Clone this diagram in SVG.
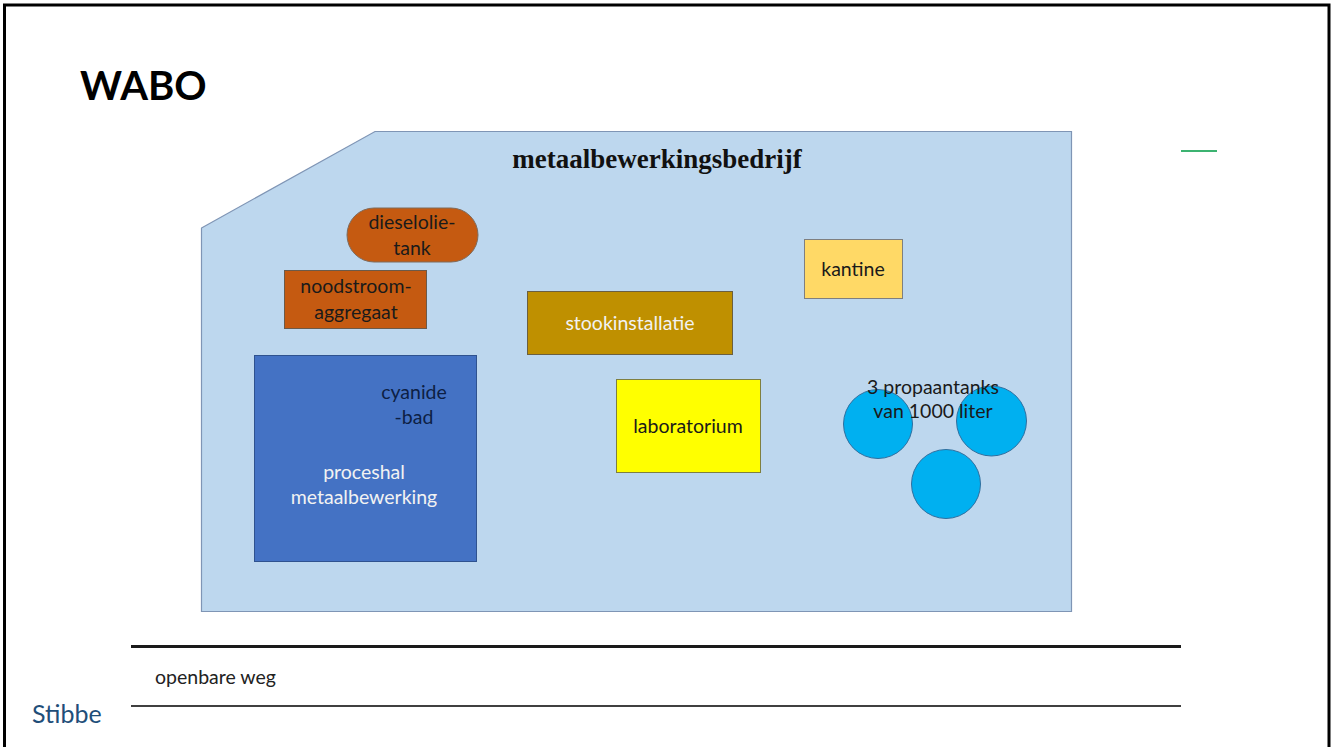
<svg xmlns="http://www.w3.org/2000/svg" width="1333" height="747" viewBox="0 0 1333 747">
<style>
.lbl{font-family:Lato,"Open Sans","Liberation Sans",sans-serif;font-size:19.5px;text-anchor:middle}
.dark{fill:#1a1a1a}
.white{fill:#f2f2f2}
</style>
<rect x="0" y="0" width="1333" height="747" fill="#ffffff"/>
<path d="M4.5 747 V5 H1329 V747" fill="none" stroke="#000" stroke-width="3"/>
<text x="80" y="100" font-family="Lato,'Open Sans','Liberation Sans',sans-serif" font-weight="bold" font-size="40" fill="#000">WABO</text>
<line x1="1181" y1="151" x2="1217" y2="151" stroke="#3cb371" stroke-width="2"/>
<g id="bedrijf">
<polygon points="201.5,228 375,131.5 1071.5,131.5 1071.5,611.5 201.5,611.5" fill="#bdd7ee" stroke="#7f95b5" stroke-width="1.2"/>
<text x="657" y="168" font-family="'Liberation Serif',serif" font-weight="bold" font-size="27" text-anchor="middle" fill="#111">metaalbewerkingsbedrijf</text>
</g>
<g id="dieselolietank">
<rect x="347" y="208" width="131" height="54" rx="27" fill="#c55a11" stroke="#7f6a5a" stroke-width="1"/>
<text class="lbl dark" x="412" y="229">dieselolie-</text>
<text class="lbl dark" x="412" y="255">tank</text>
</g>
<g id="noodstroom">
<rect x="284.5" y="270.5" width="142" height="58" fill="#c55a11" stroke="#6b5a4a" stroke-width="1"/>
<text class="lbl dark" x="356" y="293">noodstroom-</text>
<text class="lbl dark" x="356" y="319">aggregaat</text>
</g>
<g id="stookinstallatie">
<rect x="527.5" y="291.5" width="205" height="63" fill="#bf9000" stroke="#6b5f40" stroke-width="1"/>
<text class="lbl white" x="630" y="330">stookinstallatie</text>
</g>
<g id="kantine">
<rect x="804.5" y="239.5" width="98" height="59" fill="#ffd966" stroke="#7f7f7f" stroke-width="1"/>
<text class="lbl dark" x="853" y="276">kantine</text>
</g>
<g id="proceshal">
<rect x="254.5" y="355.5" width="222" height="206" fill="#4472c4" stroke="#2f528f" stroke-width="1"/>
<text class="lbl" x="414" y="399" fill="#0d1f44">cyanide</text>
<text class="lbl" x="414" y="424" fill="#0d1f44">-bad</text>
<text class="lbl white" x="364" y="479">proceshal</text>
<text class="lbl white" x="364" y="504">metaalbewerking</text>
</g>
<g id="laboratorium">
<rect x="616.5" y="379.5" width="144" height="93" fill="#ffff00" stroke="#7f7f3f" stroke-width="1"/>
<text class="lbl dark" x="688" y="433">laboratorium</text>
</g>
<g id="propaantanks">
<circle cx="878" cy="424" r="34.5" fill="#00b0f0" stroke="#2f6f9f" stroke-width="1"/>
<circle cx="991.5" cy="421" r="35" fill="#00b0f0" stroke="#2f6f9f" stroke-width="1"/>
<circle cx="946" cy="484" r="34.5" fill="#00b0f0" stroke="#2f6f9f" stroke-width="1"/>
<text class="lbl dark" x="933" y="394">3 propaantanks</text>
<text class="lbl dark" x="933" y="418">van 1000 liter</text>
</g>
<g id="weg">
<line x1="131" y1="646.5" x2="1181" y2="646.5" stroke="#1a1a1a" stroke-width="3"/>
<line x1="131" y1="706" x2="1181" y2="706" stroke="#000" stroke-width="1.6"/>
<text x="155" y="684" font-family="Lato,'Open Sans','Liberation Sans',sans-serif" font-size="19.5" fill="#222">openbare weg</text>
</g>
<text x="32" y="723" font-family="Lato,'Open Sans','Liberation Sans',sans-serif" font-size="25" fill="#1f4e79">Stibbe</text>
</svg>
